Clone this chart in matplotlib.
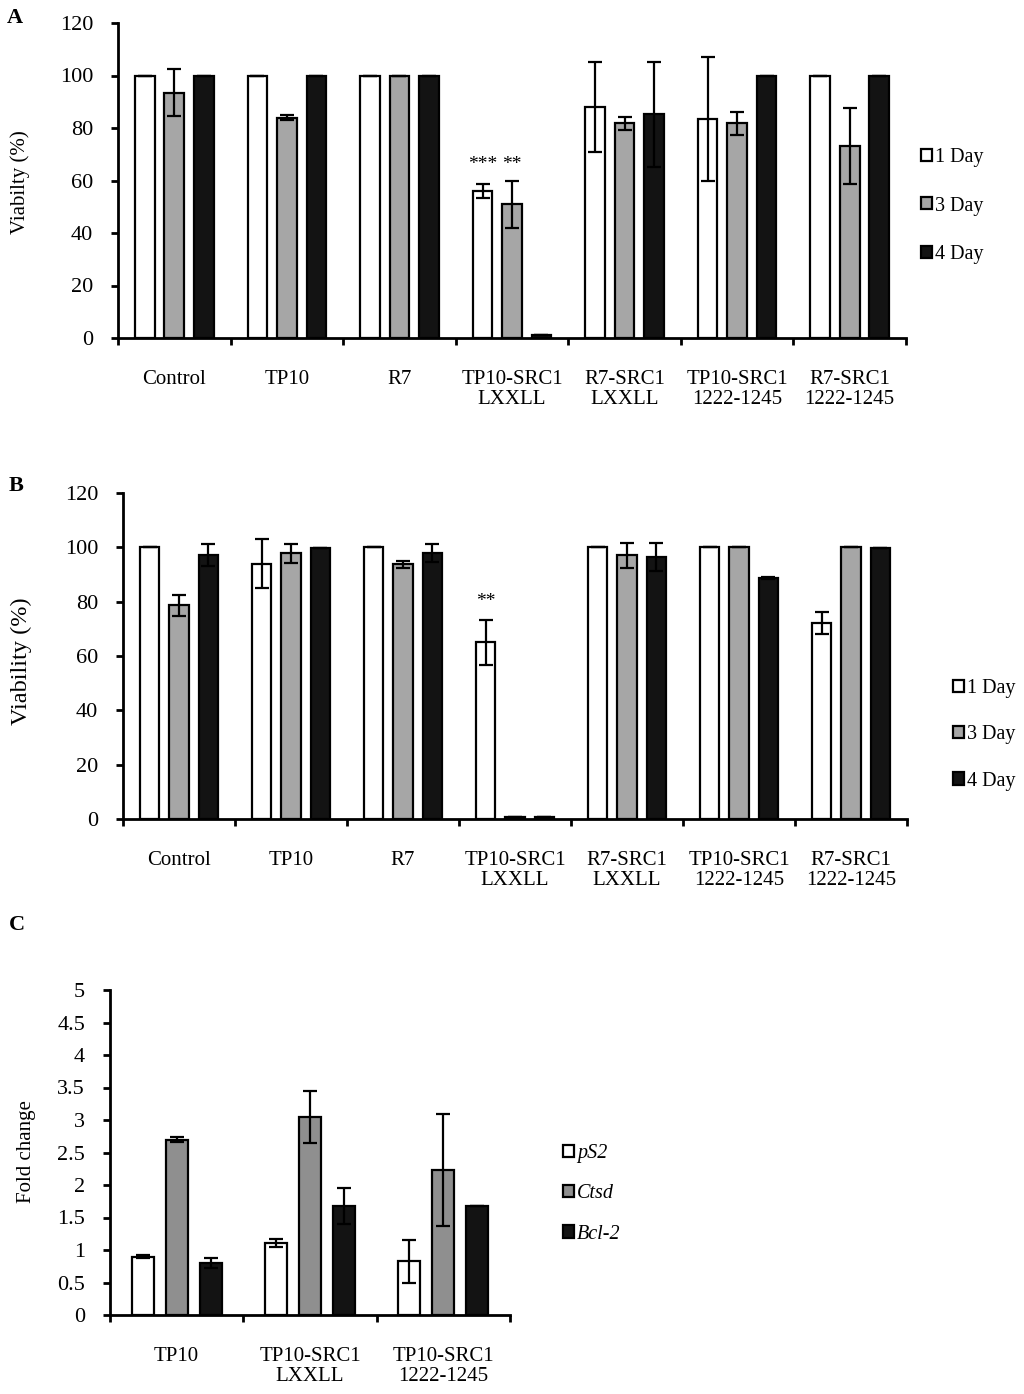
import numpy as np
import matplotlib
matplotlib.use("Agg")
import matplotlib.pyplot as plt
from matplotlib.patches import Patch

plt.rcParams['font.family'] = ['Liberation Serif', 'DejaVu Serif']

# ---------- data ----------
groups_ab = ["Control", "TP10", "R7", "TP10-SRC1\nLXXLL", "R7-SRC1\nLXXLL",
             "TP10-SRC1\n1222-1245", "R7-SRC1\n1222-1245"]
days = ["1 Day", "3 Day", "4 Day"]

a_day1 = [100, 100, 100, 56, 88, 83.5, 100]
a_day3 = [93.5, 84, 100, 51, 81.8, 81.8, 73.3]
a_day4 = [100, 100, 100, 1, 85.3, 100, 100]
a_err1 = [0, 0, 0, 2.6, 17, 23.5, 0]
a_err3 = [9, 1, 0, 9, 2.4, 4.3, 14.5]
a_err4 = [0, 0, 0, 0, 20, 0, 0]

b_day1 = [100, 93.9, 100, 65, 100, 100, 72.1]
b_day3 = [78.6, 97.8, 93.7, 0.8, 97, 100, 100]
b_day4 = [97.3, 99.6, 97.9, 0.8, 96.4, 88.6, 99.8]
b_err1 = [0, 9, 0, 8.3, 0, 0, 4.1]
b_err3 = [4, 3.5, 1.3, 0, 4.6, 0, 0]
b_err4 = [4, 0, 3.2, 0, 5.2, 0.4, 0]

groups_c = ["TP10", "TP10-SRC1\nLXXLL", "TP10-SRC1\n1222-1245"]
genes = ["pS2", "Ctsd", "Bcl-2"]
c_ps2 = [0.90, 1.11, 0.83]
c_ctsd = [2.70, 3.04, 2.23]
c_bcl2 = [0.80, 1.68, 1.68]
c_err_ps2 = [0.02, 0.06, 0.33]
c_err_ctsd = [0.04, 0.40, 0.86]
c_err_bcl2 = [0.07, 0.28, 0]

W, H = 1024, 1394
fig = plt.figure(figsize=(W / 100, H / 100), dpi=100)


def px_axes(left, right, top, bottom):
    return fig.add_axes([left / W, 1 - bottom / H, (right - left) / W, (bottom - top) / H])


def style_axes(ax, ngroups, ymax, ystep, labels, fsize, ysize):
    for s in ["top", "right"]:
        ax.spines[s].set_visible(False)
    for s in ["left", "bottom"]:
        ax.spines[s].set_linewidth(2)
    ax.set_xlim(-0.5, ngroups - 0.5)
    ax.set_ylim(0, ymax)
    ax.set_yticks(np.arange(0, ymax + ystep / 2, ystep))
    ax.set_xticks(np.arange(-0.5, ngroups, 1.0))
    ax.set_xticklabels([])
    ax.set_xticks(np.arange(ngroups), minor=True)
    ax.set_xticklabels(labels, minor=True, fontsize=fsize, linespacing=1.05)
    ax.tick_params(axis="x", which="major", direction="out", length=5, width=2)
    ax.tick_params(axis="x", which="minor", length=0, pad=23)
    ax.tick_params(axis="y", direction="out", length=5, width=2, labelsize=ysize, pad=13)


def draw_bars(ax, series, errs, colors, off, width):
    x = np.arange(len(series[0]))
    for i, (vals, err, col) in enumerate(zip(series, errs, colors)):
        xs = x + (i - 1) * off
        ax.bar(xs, vals, width, color=col, edgecolor="black", linewidth=1.6, zorder=2)
        ax.errorbar(xs, vals, yerr=err, fmt="none", ecolor="black", elinewidth=1.6,
                    capsize=5, capthick=1.6, zorder=3)


def add_legend(handles, labels, x, y, spacing, italic=False):
    prop = {"size": 14.5, "style": "italic" if italic else "normal"}
    fig.legend(handles, labels, loc="center left", bbox_to_anchor=(x / W, 1 - y / H),
               frameon=False, prop=prop, handlelength=0.55, handleheight=0.55,
               handletextpad=0.15, labelspacing=spacing)


colors_ab = ["white", "#a6a6a6", "#131313"]
colors_c = ["white", "#8f8f8f", "#131313"]
handles = [Patch(facecolor=c, edgecolor="black", linewidth=1.6) for c in colors_ab]
handles_c = [Patch(facecolor=c, edgecolor="black", linewidth=1.6) for c in colors_c]

# ---------- panel A ----------
axA = px_axes(118, 906, 23, 338)
style_axes(axA, 7, 120, 20, groups_ab, 15, 16)
draw_bars(axA, [a_day1, a_day3, a_day4], [a_err1, a_err3, a_err4], colors_ab, 0.262, 0.175)
axA.text(3 - 0.262, 63, "***", ha="center", va="bottom", fontsize=14)
axA.text(3, 63, "**", ha="center", va="bottom", fontsize=14)
fig.text(20 / W, 1 - 182 / H, "Viabilty (%)", rotation=90, ha="center", va="center",
         fontsize=15)
add_legend(handles, days, 903, 206, 1.45)
fig.text(7 / W, 1 - 18 / H, "A", fontsize=16, fontweight="bold", va="center")

# ---------- panel B ----------
axB = px_axes(123, 907, 493, 819)
style_axes(axB, 7, 120, 20, groups_ab, 15, 16)
draw_bars(axB, [b_day1, b_day3, b_day4], [b_err1, b_err3, b_err4], colors_ab, 0.262, 0.175)
axB.text(3 - 0.262, 77, "**", ha="center", va="bottom", fontsize=14)
fig.text(21 / W, 1 - 661 / H, "Viability (%)", rotation=90, ha="center", va="center",
         fontsize=17.5)
add_legend(handles, days, 935, 735, 1.35)
fig.text(9 / W, 1 - 486 / H, "B", fontsize=16, fontweight="bold", va="center")

# ---------- panel C ----------
axC = px_axes(110, 510, 990, 1315)
style_axes(axC, 3, 5, 0.5, groups_c, 15, 16)
axC.set_yticklabels(["0", "0.5", "1", "1.5", "2", "2.5", "3", "3.5", "4", "4.5", "5"])
draw_bars(axC, [c_ps2, c_ctsd, c_bcl2], [c_err_ps2, c_err_ctsd, c_err_bcl2], colors_c, 0.255, 0.165)
fig.text(26 / W, 1 - 1152 / H, "Fold change", rotation=90, ha="center", va="center",
         fontsize=15)
add_legend(handles_c, genes, 545, 1194, 1.05, italic=True)
fig.text(9 / W, 1 - 925 / H, "C", fontsize=16, fontweight="bold", va="center")

fig.savefig("out.png", dpi=100, facecolor="white")
